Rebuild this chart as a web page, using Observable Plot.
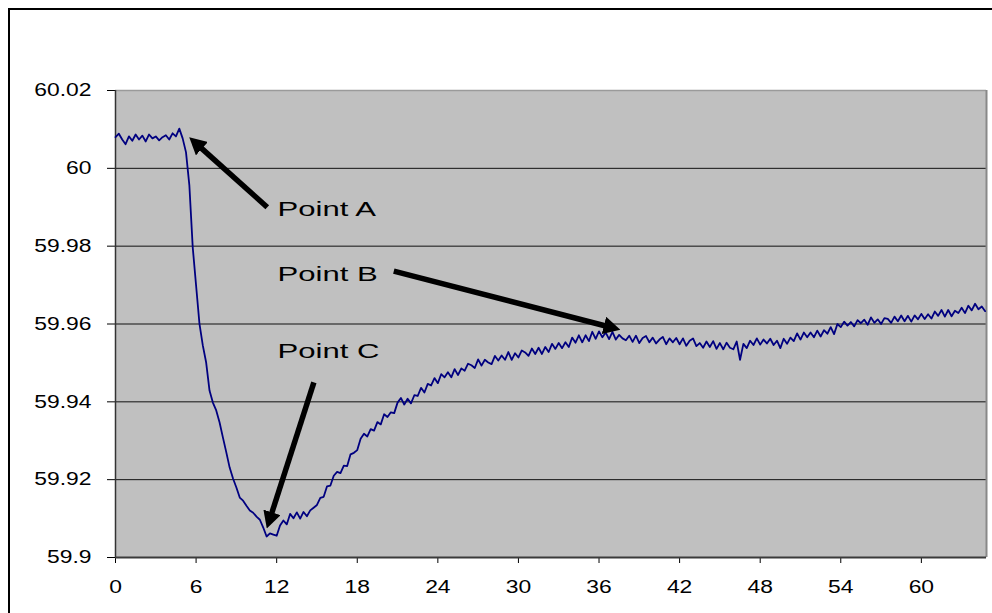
<!DOCTYPE html>
<html>
<head>
<meta charset="utf-8">
<script src="https://cdn.jsdelivr.net/npm/d3@7"></script>
<script src="https://cdn.jsdelivr.net/npm/@observablehq/plot@0.6"></script>
<style>
  html, body { margin: 0; padding: 0; background: #fff; }
  #wrap { position: relative; width: 992px; height: 613px; overflow: hidden; }
  #frame { position: absolute; left: 8px; top: 8px; width: 1000px; height: 1000px; border: 2px solid #000; box-sizing: border-box; pointer-events: none; }
</style>
</head>
<body>
<div id="wrap"><div id="frame"></div></div>
<script>
// Sampling interval of the recorded frequency trace (seconds)
const sampleInterval = 0.25;

// Frequency (Hz), one value per sample starting at t = 0
const frequency = [
  60.0080, 60.0089, 60.0074, 60.0062,
  60.0082, 60.0071, 60.0087, 60.0074,
  60.0084, 60.0069, 60.0087, 60.0077,
  60.0082, 60.0072, 60.0080, 60.0085,
  60.0074, 60.0090, 60.0082, 60.0102,
  60.0077, 60.0041, 59.9956, 59.9797,
  59.9699, 59.9601, 59.9545, 59.9501,
  59.9429, 59.9398, 59.9378, 59.9347,
  59.9308, 59.9270, 59.9231, 59.9203,
  59.9180, 59.9154, 59.9146, 59.9133,
  59.9121, 59.9115, 59.9105, 59.9097,
  59.9077, 59.9054, 59.9062, 59.9059,
  59.9056, 59.9082, 59.9095, 59.9085,
  59.9112, 59.9101, 59.9116, 59.9100,
  59.9117, 59.9106, 59.9121, 59.9128,
  59.9135, 59.9153, 59.9156, 59.9183,
  59.9185, 59.9210, 59.9220, 59.9217,
  59.9236, 59.9235, 59.9265, 59.9269,
  59.9276, 59.9305, 59.9318, 59.9311,
  59.9330, 59.9326, 59.9348, 59.9342,
  59.9368, 59.9361, 59.9373, 59.9371,
  59.9398, 59.9410, 59.9393, 59.9408,
  59.9396, 59.9417, 59.9415, 59.9436,
  59.9424, 59.9446, 59.9442, 59.9461,
  59.9448, 59.9471, 59.9463, 59.9476,
  59.9463, 59.9484, 59.9469, 59.9486,
  59.9480, 59.9498, 59.9494, 59.9487,
  59.9509, 59.9493, 59.9508, 59.9501,
  59.9497, 59.9518, 59.9506, 59.9519,
  59.9508, 59.9528, 59.9508, 59.9525,
  59.9514, 59.9532, 59.9527, 59.9518,
  59.9537, 59.9523, 59.9539, 59.9523,
  59.9541, 59.9528, 59.9549, 59.9536,
  59.9551, 59.9538, 59.9553, 59.9541,
  59.9565, 59.9552, 59.9571, 59.9553,
  59.9571, 59.9556, 59.9580, 59.9562,
  59.9581, 59.9566, 59.9578, 59.9561,
  59.9580, 59.9560, 59.9572, 59.9563,
  59.9558, 59.9570, 59.9554, 59.9570,
  59.9551, 59.9564, 59.9569, 59.9553,
  59.9565, 59.9550, 59.9560, 59.9567,
  59.9548, 59.9563, 59.9553, 59.9564,
  59.9548, 59.9563, 59.9544, 59.9557,
  59.9563, 59.9543, 59.9551, 59.9539,
  59.9555, 59.9541, 59.9556, 59.9536,
  59.9551, 59.9535, 59.9552, 59.9539,
  59.9535, 59.9555, 59.9508, 59.9549,
  59.9538, 59.9557, 59.9546, 59.9563,
  59.9547, 59.9560, 59.9550, 59.9562,
  59.9546, 59.9557, 59.9538, 59.9562,
  59.9549, 59.9565, 59.9556, 59.9576,
  59.9560, 59.9578, 59.9566, 59.9578,
  59.9566, 59.9583, 59.9568, 59.9584,
  59.9575, 59.9592, 59.9574, 59.9600,
  59.9592, 59.9606, 59.9596, 59.9605,
  59.9594, 59.9610, 59.9602, 59.9611,
  59.9598, 59.9617, 59.9603, 59.9612,
  59.9600, 59.9615, 59.9613, 59.9603,
  59.9619, 59.9607, 59.9622, 59.9607,
  59.9621, 59.9606, 59.9622, 59.9612,
  59.9626, 59.9613, 59.9625, 59.9614,
  59.9632, 59.9621, 59.9636, 59.9619,
  59.9636, 59.9620, 59.9634, 59.9628,
  59.9642, 59.9628, 59.9647, 59.9635,
  59.9652, 59.9638, 59.9645, 59.9633
];

// Axis ticks and labels
const xTicks = [0, 6, 12, 18, 24, 30, 36, 42, 48, 54, 60];
const xDomain = [0, 64.85];
const yTicks = [59.9, 59.92, 59.94, 59.96, 59.98, 60, 60.02];
const yTickLabels = ["59.9", "59.92", "59.94", "59.96", "59.98", "60", "60.02"];
const yDomain = [59.9, 60.02];
const gridValues = [59.92, 59.94, 59.96, 59.98, 60];

// Annotations (in data units)
const labelText = ["Point A", "Point B", "Point C"];
const labelX = [12.06, 12.06, 12.06];
const labelY = [59.9894, 59.9727, 59.9529];
const arrowX1 = [11.30, 20.72, 14.77];
const arrowY1 = [59.9900, 59.9736, 59.9450];
const arrowX2 = [6.16, 36.72, 11.54];
const arrowY2 = [60.0059, 59.9593, 59.9104];

const series = frequency.map((f, i) => ({t: i * sampleInterval, f}));
const labels = labelText.map((text, i) => ({text, x: labelX[i], y: labelY[i]}));
const arrows = arrowX1.map((x1, i) => ({x1, y1: arrowY1[i], x2: arrowX2[i], y2: arrowY2[i]}));

const chart = Plot.plot({
  width: 992,
  height: 613,
  marginLeft: 115,
  marginRight: 6,
  marginTop: 90,
  marginBottom: 56,
  style: {fontFamily: "'Liberation Sans', Arial, sans-serif", fontSize: "18px", background: "transparent", color: "#000"},
  x: {domain: xDomain, ticks: xTicks, tickSize: 6, tickPadding: 17, label: null, tickFormat: d => String(d)},
  y: {domain: yDomain, ticks: yTicks, tickSize: 8, tickPadding: 16, label: null,
      tickFormat: d => yTickLabels[yTicks.findIndex(v => Math.abs(v - d) < 1e-9)]},
  marks: [
    Plot.frame({fill: "#c0c0c0", stroke: null}),
    Plot.ruleY(gridValues, {stroke: "#111", strokeWidth: 1}),
    Plot.ruleY([yDomain[1]], {stroke: "#9a9a9a", strokeWidth: 1.5}),
    Plot.ruleX([xDomain[1]], {stroke: "#888", strokeWidth: 2}),
    Plot.ruleX([xDomain[0]], {stroke: "#333", strokeWidth: 1.5}),
    Plot.ruleY([yDomain[0]], {stroke: "#3a3a3a", strokeWidth: 2}),
    Plot.line(series, {x: "t", y: "f", stroke: "#000080", strokeWidth: 1.8}),
    Plot.link(arrows, {x1: "x1", y1: "y1", x2: "x2", y2: "y2", stroke: "#000", strokeWidth: 5.5, markerEnd: "arrow"}),
    Plot.text(labels, {x: "x", y: "y", text: "text", textAnchor: "start", fontSize: 21, fill: "#000"})
  ]
});

document.getElementById("wrap").insertBefore(chart, document.getElementById("frame"));

// Filled triangular arrowheads
const NS = "http://www.w3.org/2000/svg";
chart.querySelectorAll("marker").forEach(m => {
  m.setAttribute("viewBox", "0 -5 10 10");
  m.setAttribute("markerUnits", "userSpaceOnUse");
  m.setAttribute("markerWidth", "17");
  m.setAttribute("markerHeight", "18");
  m.setAttribute("preserveAspectRatio", "none");
  m.setAttribute("refX", "2.9");
  m.setAttribute("refY", "0");
  m.setAttribute("orient", "auto");
  m.setAttribute("fill", "#000");
  m.setAttribute("stroke", "none");
  while (m.firstChild) m.removeChild(m.firstChild);
  const p = document.createElementNS(NS, "path");
  p.setAttribute("d", "M0,-5L10,0L0,5Z");
  p.setAttribute("fill", "#000");
  p.setAttribute("stroke", "none");
  m.appendChild(p);
});

// The original chart's text is horizontally stretched
chart.querySelectorAll("text").forEach(t => {
  const fs = parseFloat(getComputedStyle(t).fontSize);
  const k = fs > 20 ? 1.48 : 1.27;
  const L = t.getComputedTextLength();
  if (L > 0) {
    t.setAttribute("textLength", (L * k).toFixed(2));
    t.setAttribute("lengthAdjust", "spacingAndGlyphs");
  }
});
</script>
</body>
</html>
